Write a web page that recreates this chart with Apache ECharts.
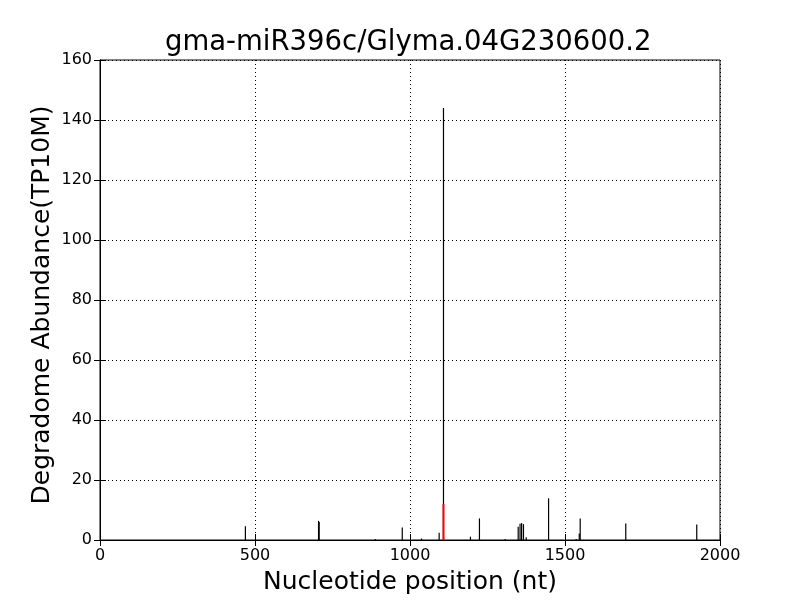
<!DOCTYPE html>
<html>
<head>
<meta charset="utf-8">
<script src="https://cdn.jsdelivr.net/npm/echarts@6/dist/echarts.min.js"></script>
<style>html,body{margin:0;padding:0;background:#fff}#c{width:800px;height:600px}</style>
</head>
<body>
<div id="c"></div>
<script>
var titleText = 'gma-miR396c/Glyma.04G230600.2';
var xName = 'Nucleotide position (nt)';
var yName = 'Degradome Abundance(TP10M)';
var xTicks = [0, 500, 1000, 1500, 2000];
var yTicks = [0, 20, 40, 60, 80, 100, 120, 140, 160];
// black peaks: position (nt), abundance
var blackPos = [469, 705, 707, 888, 975, 1037, 1094, 1108, 1195, 1224, 1307, 1349, 1355, 1360, 1366, 1375, 1447, 1536, 1546, 1549, 1696, 1925];
var blackVal = [4.6, 6.4, 6.0, 0.3, 4.2, 0.5, 2.4, 144, 1.1, 7.2, 0.3, 4.4, 5.4, 5.7, 5.3, 0.9, 13.9, 0.3, 2.2, 7.2, 5.5, 5.2];
// red peak (target site)
var redPos = [1108];
var redVal = [12.0];

var FONT = 'DejaVu Sans';
function pairs(p, v) { return p.map(function (x, i) { return [x, v[i]]; }); }
function stickSeries(data, color, width, z) {
  return {
    type: 'custom', z: z, clip: true,
    data: data,
    encode: { x: 0, y: 1 },
    renderItem: function (params, api) {
      var top = api.coord([api.value(0), api.value(1)]);
      var bot = api.coord([api.value(0), 0]);
      return { type: 'line', shape: { x1: top[0], y1: top[1], x2: bot[0], y2: bot[1] },
               style: { stroke: color, lineWidth: width } };
    }
  };
}
var chart = echarts.init(document.getElementById('c'), null, { renderer: 'canvas' });
var gridLine = { show: true, lineStyle: { color: '#000', type: [1, 3], width: 1 } };
var tickIn = { show: true, inside: true, length: 6, lineStyle: { color: '#000', width: 1 } };
var plain = function (v) { return String(v); };
chart.setOption({
  animation: false,
  backgroundColor: '#fff',
  title: { text: titleText, left: 165, top: 29, padding: 0,
           textStyle: { fontFamily: FONT, fontSize: 27.5, fontWeight: 'normal', color: '#000' } },
  graphic: [{
    type: 'text', x: 42, y: 305, rotation: Math.PI / 2,
    style: { text: yName, font: '25px "DejaVu Sans"', fill: '#000', align: 'center', verticalAlign: 'middle' }
  }],
  grid: { left: 100, right: 80, top: 60, bottom: 60, show: true, borderColor: '#000', borderWidth: 1, backgroundColor: 'transparent' },
  xAxis: [{
    type: 'value', min: xTicks[0], max: xTicks[xTicks.length - 1], interval: 500,
    name: xName, nameLocation: 'middle', nameGap: 30,
    nameTextStyle: { fontFamily: FONT, fontSize: 25, color: '#000' },
    axisLine: { show: true, lineStyle: { color: '#000' } },
    axisTick: tickIn, splitLine: gridLine,
    axisLabel: { fontFamily: FONT, fontSize: 16, color: '#000', margin: 8, formatter: plain }
  }, {
    type: 'value', position: 'top', min: xTicks[0], max: xTicks[xTicks.length - 1], interval: 500,
    axisLine: { show: true, lineStyle: { color: '#000' } }, axisTick: tickIn,
    axisLabel: { show: false }, splitLine: { show: false }
  }],
  yAxis: [{
    type: 'value', min: yTicks[0], max: yTicks[yTicks.length - 1], interval: 20,
    axisLine: { show: true, lineStyle: { color: '#000' } },
    axisTick: tickIn, splitLine: gridLine,
    axisLabel: { fontFamily: FONT, fontSize: 16, color: '#000', margin: 8, formatter: plain }
  }, {
    type: 'value', position: 'right', min: yTicks[0], max: yTicks[yTicks.length - 1], interval: 20,
    axisLine: { show: true, lineStyle: { color: '#000' } }, axisTick: tickIn,
    axisLabel: { show: false }, splitLine: { show: false }
  }],
  series: [
    stickSeries(pairs(blackPos, blackVal), '#000', 1.2, 2),
    stickSeries(pairs(redPos, redVal), '#ff0000', 2, 3)
  ]
});
</script>
</body>
</html>
